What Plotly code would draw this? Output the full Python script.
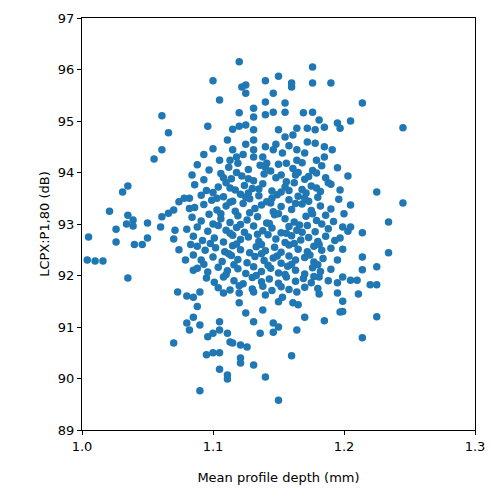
import plotly.graph_objects as go

# (mean profile depth [mm], LCPX:P1,80 [dB]) samples, grouped by region of the cloud
left_tail = [
    (1.004, 92.30), (1.010, 92.28), (1.016, 92.28), (1.005, 92.75), (1.021, 93.25),
    (1.026, 92.90), (1.026, 92.65), (1.031, 93.62), (1.035, 93.74), (1.035, 93.17),
    (1.034, 93.00), (1.039, 93.08), (1.039, 92.96), (1.040, 92.60), (1.046, 92.60),
    (1.050, 92.73), (1.050, 93.02), (1.035, 91.95), (1.061, 93.14), (1.066, 93.21),
    (1.070, 93.27), (1.060, 92.94), (1.071, 92.88), (1.070, 92.71), (1.074, 92.50),
    (1.074, 93.43), (1.061, 95.10), (1.066, 94.77), (1.061, 94.44), (1.055, 94.26),
    (1.070, 90.69), (1.073, 91.68), (1.078, 93.50), (1.082, 93.30), (1.080, 92.90),
    (1.083, 92.60), (1.079, 92.30), (1.085, 92.10), (1.080, 91.60), (1.088, 91.40),
]

upper_left = [
    (1.120, 96.15), (1.100, 95.78), (1.122, 95.66), (1.125, 95.70), (1.125, 95.54),
    (1.105, 95.41), (1.120, 95.16), (1.096, 94.90), (1.115, 94.84), (1.120, 94.90),
    (1.125, 94.92), (1.111, 94.63), (1.100, 94.46), (1.105, 94.24), (1.115, 94.44),
    (1.113, 94.24), (1.118, 94.30), (1.131, 95.25), (1.131, 95.08), (1.131, 94.83),
    (1.131, 94.63), (1.131, 94.44), (1.131, 94.30),
]

upper_right = [
    (1.176, 96.05), (1.176, 95.74), (1.190, 95.74), (1.150, 95.87), (1.140, 95.78),
    (1.160, 95.74), (1.160, 95.66), (1.146, 95.54), (1.140, 95.37), (1.146, 95.17),
    (1.140, 95.12), (1.155, 95.35), (1.155, 95.17), (1.169, 95.16), (1.176, 95.17),
    (1.181, 95.02), (1.150, 94.83), (1.155, 94.69), (1.161, 94.73), (1.164, 94.86),
    (1.172, 94.86), (1.178, 94.83), (1.185, 94.88), (1.195, 94.96), (1.172, 94.59),
    (1.178, 94.57), (1.185, 94.50), (1.140, 94.50), (1.146, 94.44), (1.153, 94.38),
    (1.164, 94.44), (1.164, 94.24), (1.179, 94.24), (1.191, 94.44), (1.141, 94.18),
    (1.156, 94.18), (1.214, 95.35), (1.205, 95.00), (1.197, 94.86), (1.245, 94.87),
]

right_tail = [
    (1.225, 93.62), (1.245, 93.41), (1.205, 93.37), (1.197, 93.66), (1.234, 93.04),
    (1.199, 92.94), (1.205, 92.94), (1.214, 92.83), (1.197, 92.73), (1.199, 92.51),
    (1.214, 92.36), (1.234, 92.44), (1.214, 92.11), (1.225, 92.17), (1.199, 91.97),
    (1.205, 91.91), (1.210, 91.91), (1.220, 91.82), (1.225, 91.82), (1.211, 91.64),
    (1.199, 91.50), (1.199, 91.30), (1.225, 91.20), (1.214, 90.79),
]

lower_cloud = [
    (1.140, 91.62), (1.153, 91.58), (1.164, 91.68), (1.181, 91.64), (1.150, 91.49),
    (1.161, 91.47), (1.165, 91.43), (1.138, 91.33), (1.170, 91.19), (1.185, 91.12),
    (1.146, 91.08), (1.150, 91.00), (1.146, 90.90), (1.136, 90.88), (1.164, 90.94),
    (1.160, 90.44), (1.140, 90.03), (1.150, 89.58), (1.195, 91.66), (1.197, 91.29),
    (1.085, 91.58), (1.090, 91.68), (1.108, 91.66), (1.120, 91.66), (1.120, 91.47),
    (1.125, 91.27), (1.131, 91.10), (1.131, 91.68), (1.085, 91.19), (1.080, 91.08),
    (1.090, 91.04), (1.082, 90.94), (1.105, 91.10), (1.105, 90.94), (1.096, 90.81),
    (1.100, 90.88), (1.111, 90.88), (1.113, 90.71), (1.115, 90.69), (1.121, 90.65),
    (1.126, 90.61), (1.121, 90.40), (1.121, 90.30), (1.131, 90.26), (1.095, 90.46),
    (1.100, 90.50), (1.105, 90.50), (1.105, 90.18), (1.111, 90.07), (1.111, 89.99),
    (1.090, 89.76),
]

core = [
    (1.088, 94.15), (1.097, 94.05), (1.112, 94.10), (1.119, 94.18), (1.127, 94.06), (1.136, 94.14),
    (1.144, 94.03), (1.150, 94.16), (1.161, 94.08), (1.168, 94.19), (1.176, 94.04), (1.183, 94.13), (1.195, 94.09),
    (1.084, 93.95), (1.093, 93.86), (1.106, 93.98), (1.114, 93.88), (1.122, 93.93), (1.131, 93.84), (1.139, 93.97),
    (1.148, 93.90), (1.156, 93.82), (1.163, 93.95), (1.170, 93.87), (1.179, 93.99), (1.186, 93.90), (1.203, 93.93),
    (1.086, 93.76), (1.095, 93.65), (1.104, 93.72), (1.110, 93.80), (1.117, 93.66), (1.124, 93.75), (1.130, 93.69),
    (1.138, 93.78), (1.145, 93.64), (1.155, 93.72), (1.162, 93.80), (1.168, 93.67), (1.175, 93.74), (1.182, 93.63), (1.190, 93.77),
    (1.082, 93.50), (1.091, 93.56), (1.099, 93.46), (1.108, 93.53), (1.115, 93.44), (1.121, 93.58), (1.128, 93.49),
    (1.135, 93.55), (1.141, 93.43), (1.149, 93.57), (1.158, 93.47), (1.165, 93.54), (1.173, 93.44), (1.180, 93.52), (1.196, 93.48),
    (1.086, 93.32), (1.093, 93.38), (1.103, 93.27), (1.110, 93.35), (1.117, 93.25), (1.123, 93.40), (1.132, 93.30),
    (1.137, 93.37), (1.146, 93.24), (1.152, 93.34), (1.160, 93.28), (1.168, 93.39), (1.175, 93.26), (1.182, 93.35), (1.190, 93.29),
    (1.084, 93.13), (1.091, 93.06), (1.097, 93.19), (1.106, 93.10), (1.113, 93.03), (1.119, 93.16), (1.126, 93.08),
    (1.134, 93.14), (1.141, 93.02), (1.147, 93.18), (1.155, 93.10), (1.162, 93.04), (1.171, 93.15), (1.179, 93.07),
    (1.186, 93.17), (1.192, 93.05), (1.200, 93.20),
    (1.088, 92.94), (1.096, 92.86), (1.104, 92.97), (1.110, 92.88), (1.118, 92.93), (1.124, 92.84), (1.131, 92.96),
    (1.138, 92.87), (1.145, 92.92), (1.152, 92.83), (1.158, 92.95), (1.164, 92.88), (1.172, 92.97), (1.178, 92.85),
    (1.188, 92.91), (1.203, 92.86),
    (1.085, 92.76), (1.092, 92.68), (1.101, 92.73), (1.108, 92.65), (1.115, 92.78), (1.121, 92.70), (1.127, 92.75),
    (1.135, 92.66), (1.142, 92.79), (1.148, 92.71), (1.155, 92.64), (1.160, 92.77), (1.167, 92.69), (1.173, 92.74),
    (1.180, 92.66), (1.186, 92.76), (1.193, 92.68),
    (1.088, 92.57), (1.094, 92.49), (1.102, 92.54), (1.109, 92.46), (1.115, 92.58), (1.121, 92.50), (1.128, 92.44),
    (1.133, 92.56), (1.140, 92.48), (1.147, 92.55), (1.152, 92.45), (1.158, 92.59), (1.165, 92.51), (1.172, 92.46),
    (1.177, 92.57), (1.183, 92.49), (1.190, 92.53),
    (1.085, 92.40), (1.091, 92.30), (1.100, 92.36), (1.107, 92.27), (1.114, 92.39), (1.119, 92.31), (1.126, 92.25),
    (1.132, 92.37), (1.139, 92.29), (1.146, 92.34), (1.152, 92.24), (1.158, 92.38), (1.163, 92.30), (1.170, 92.35),
    (1.177, 92.26), (1.184, 92.33), (1.195, 92.30),
    (1.088, 92.14), (1.096, 92.07), (1.104, 92.16), (1.111, 92.09), (1.119, 92.13), (1.125, 92.04), (1.131, 92.17),
    (1.137, 92.08), (1.144, 92.14), (1.150, 92.05), (1.157, 92.18), (1.163, 92.10), (1.170, 92.03), (1.176, 92.15),
    (1.182, 92.08), (1.190, 92.12),
    (1.095, 91.95), (1.101, 91.87), (1.108, 91.97), (1.116, 91.90), (1.123, 91.84), (1.130, 91.96), (1.137, 91.88),
    (1.143, 91.93), (1.150, 91.85), (1.156, 91.97), (1.163, 91.89), (1.169, 91.94), (1.175, 91.86), (1.181, 91.97),
    (1.188, 91.90), (1.195, 91.86),
    (1.104, 91.76), (1.113, 91.72), (1.120, 91.80), (1.130, 91.74), (1.138, 91.79), (1.145, 91.71), (1.152, 91.78),
    (1.158, 91.73), (1.170, 91.77), (1.180, 91.75),
    (1.123, 94.35), (1.138, 94.30), (1.148, 94.55), (1.158, 94.52), (1.170, 94.38), (1.185, 94.30), (1.125, 94.55), (1.093, 94.35),
    (1.100, 93.00), (1.121, 92.99), (1.143, 93.01), (1.166, 92.98), (1.183, 93.00),
    (1.098, 92.62), (1.118, 92.61), (1.137, 92.60), (1.162, 92.62), (1.181, 92.60),
    (1.093, 92.22), (1.116, 92.21), (1.142, 92.20), (1.160, 92.22), (1.180, 92.21),
    (1.100, 93.61), (1.127, 93.60), (1.152, 93.62), (1.171, 93.60),
    (1.113, 93.42), (1.144, 93.41), (1.163, 93.40),
    (1.108, 93.90), (1.127, 93.88), (1.152, 93.95), (1.173, 93.92),
    (1.113, 93.70), (1.135, 93.68), (1.158, 93.65), (1.179, 93.70),
    (1.103, 93.50), (1.125, 93.52), (1.145, 93.50), (1.170, 93.50),
    (1.106, 93.20), (1.128, 93.22), (1.150, 93.20), (1.176, 93.20),
    (1.113, 92.82), (1.134, 92.80), (1.156, 92.82), (1.168, 92.84),
    (1.112, 92.42), (1.137, 92.42), (1.149, 92.38), (1.174, 92.40),
    (1.110, 92.02), (1.133, 92.00), (1.155, 92.02), (1.177, 91.98),
    (1.118, 94.00), (1.140, 94.10), (1.165, 94.00), (1.188, 93.80),
]

samples = left_tail + upper_left + upper_right + right_tail + lower_cloud + core
mean_profile_depth = [p[0] for p in samples]
lcpx_p1_80 = [p[1] for p in samples]

x_ticks = [1.0, 1.1, 1.2, 1.3]
y_ticks = [89, 90, 91, 92, 93, 94, 95, 96, 97]

fig = go.Figure(
    go.Scatter(
        x=mean_profile_depth,
        y=lcpx_p1_80,
        mode="markers",
        marker=dict(color="#1f77b4", size=7.5, line=dict(width=0)),
        hoverinfo="skip",
    )
)

axis_common = dict(
    showline=True,
    linecolor="black",
    linewidth=1,
    mirror=True,
    ticks="outside",
    ticklen=4,
    tickwidth=1,
    tickcolor="black",
    showgrid=False,
    zeroline=False,
    automargin=False,
    tickfont=dict(family="DejaVu Sans", size=13, color="black"),
)

fig.update_xaxes(
    range=[1.0, 1.3],
    tickvals=x_ticks,
    ticktext=[f"{v:.1f}" for v in x_ticks],
    title=dict(text="Mean profile depth (mm)", font=dict(family="DejaVu Sans", size=13, color="black"), standoff=20),
    **axis_common,
)
fig.update_yaxes(
    range=[89, 97],
    tickvals=y_ticks,
    ticktext=[str(v) for v in y_ticks],
    title=dict(text="LCPX:P1,80 (dB)", font=dict(family="DejaVu Sans", size=13, color="black"), standoff=5),
    **axis_common,
)

fig.update_layout(
    width=491,
    height=492,
    margin=dict(l=82, r=16, t=18, b=62),
    paper_bgcolor="white",
    plot_bgcolor="white",
    showlegend=False,
)

fig.write_html("out.html")
